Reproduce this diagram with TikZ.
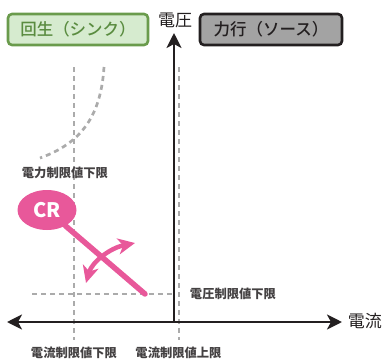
\documentclass[tikz,border=0pt]{standalone}
\usepackage{fontspec}
\newfontfamily\jp{Noto Sans CJK JP}
\newfontfamily\jpm{Noto Sans CJK JP Medium}
\usetikzlibrary{arrows.meta,shapes.geometric}
\definecolor{ink}{HTML}{231F20}
\definecolor{dashgray}{HTML}{ABABAB}
\definecolor{crpink}{HTML}{E8589A}
\definecolor{sinkfill}{HTML}{D6EBCF}
\definecolor{sinkline}{HTML}{6A9B4C}
\definecolor{sinktext}{HTML}{5A8C40}
\definecolor{srcfill}{HTML}{A3A3A3}
\tikzset{
  axistip/.tip={Stealth[length=15pt,width=15pt,inset=4pt]},
  pinktip/.tip={Stealth[length=17pt,width=16pt,inset=5pt]},
  axisline/.style={draw=ink, line width=2.6pt},
  limitline/.style={draw=dashgray, line width=2.7pt, dash pattern=on 5pt off 4pt},
  smalllabel/.style={font=\jp\bfseries\fontsize{12.3}{14}\selectfont, text=ink!85, inner sep=0pt},
  axislabel/.style={font=\jp\fontsize{17}{20}\selectfont, text=ink, inner sep=0pt},
  modebox/.style={rounded corners=4pt, line width=2.6pt, minimum width=140pt, minimum height=31pt, inner sep=0pt, font=\jpm\fontsize{16.5}{19}\selectfont},
  pinkarrow/.style={draw=crpink, line width=4.5pt, pinktip-pinktip}
}
\begin{document}
\begin{tikzpicture}[x=1pt,y=-1pt]
\useasboundingbox (0,0) rectangle (384,360);
% limit lines
\coordinate (vl1) at (74,67); \coordinate (vl2) at (74,340);
\coordinate (vr1) at (179,67); \coordinate (vr2) at (179,340);
\coordinate (h1) at (32,294); \coordinate (h2) at (174,294);
\coordinate (p1) at (104,67); \coordinate (p2) at (40,158);
\draw[limitline] (vl1) -- (vl2);
\draw[limitline] (vr1) -- (vr2);
\draw[limitline] (h1) -- (h2);
\draw[limitline] (p1) .. controls (101,115) and (82,143) .. (p2);
% axes
\coordinate (o) at (174,322);
\coordinate (xl) at (7,322); \coordinate (xr) at (342,322);
\coordinate (yt) at (174,33);
\draw[axisline, -axistip] (o) -- (yt);
\draw[axisline, axistip-axistip] (xl) -- (xr);
% labels
\node[axislabel] (vlab) at (175,20) {電圧};
\node[axislabel] (ilab) at (365,321) {電流};
\node[smalllabel] (plim) at (65,173) {電力制限値下限};
\node[smalllabel] (vlim) at (233,294) {電圧制限値下限};
\node[smalllabel] (ilo) at (74,353) {電流制限値下限};
\node[smalllabel] (ihi) at (178.5,353) {電流制限値上限};
% mode boxes
\node[modebox, draw=sinkline, fill=sinkfill, text=sinktext] (sink) at (78,29.5) {回生（シンク）};
\node[modebox, draw=ink, fill=srcfill, text=ink, minimum width=142pt] (src) at (271,29.5) {力行（ソース）};
% CR
\coordinate (crend) at (145,294);
\node[ellipse, fill=crpink, minimum width=59pt, minimum height=40pt, inner sep=0pt, text=white, font=\jp\bfseries\fontsize{20}{22}\selectfont] (cr) at (47,210) {CR};
\draw[draw=crpink, line width=5.5pt, line cap=round] (cr) -- (crend);
\coordinate (a1) at (86,283); \coordinate (a2) at (135,243);
\draw[pinkarrow] (a1) .. controls (92,262) and (110,248) .. (a2);
\end{tikzpicture}
\end{document}
